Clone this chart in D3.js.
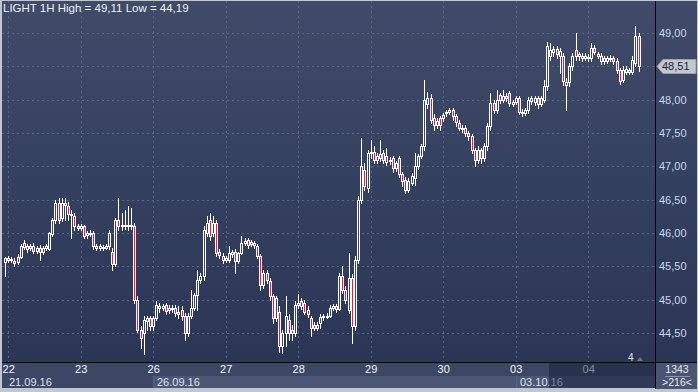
<!DOCTYPE html>
<html><head><meta charset="utf-8">
<script src="https://cdn.jsdelivr.net/npm/d3@7"></script>
<style>
html,body{margin:0;padding:0;background:#c4c8cf;}
svg{display:block;font-family:"Liberation Sans",Arial,sans-serif;}
</style></head>
<body>
<svg id="chart" width="698" height="392"></svg>
<script>
// ---- data ----
const title = "LIGHT 1H High = 49,11 Low = 44,19";
const opens = [45.57,45.62,45.60,45.58,45.56,45.64,45.85,45.76,45.80,45.80,45.73,45.78,45.72,45.77,45.76,45.98,46.20,46.45,46.22,46.42,
46.40,46.28,46.25,46.10,46.08,46.10,45.97,46.00,46.00,45.80,45.78,45.79,45.78,45.80,45.72,45.53,46.20,46.10,46.12,46.10,
46.12,46.10,45.00,44.55,44.50,44.68,44.72,44.60,44.72,44.88,44.88,44.92,44.85,44.87,44.88,44.82,44.85,44.75,44.50,44.76,
44.88,45.07,45.30,45.35,46.00,46.20,46.00,46.15,45.72,45.65,45.60,45.60,45.68,45.72,45.58,45.70,45.85,45.90,45.83,45.82,
45.80,45.65,45.22,45.40,45.28,45.05,44.72,44.82,44.30,44.50,44.70,44.55,44.50,44.92,44.98,44.95,44.85,44.72,44.62,44.58,
44.65,44.74,44.76,44.76,44.88,44.90,44.86,45.35,45.15,44.85,45.32,44.60,45.60,46.50,46.95,46.68,47.20,47.22,47.10,47.12,
47.20,47.15,47.08,47.12,46.97,47.12,46.88,46.80,46.65,46.75,46.82,47.00,47.15,47.30,47.93,48.03,47.72,47.62,47.72,47.72,
47.80,47.82,47.85,47.75,47.65,47.56,47.58,47.50,47.45,47.25,47.10,47.25,47.12,47.30,47.60,47.95,47.85,48.07,48.00,48.05,
48.10,47.93,47.96,48.03,47.82,47.80,47.84,48.02,47.96,48.02,47.93,48.00,48.20,48.65,48.72,48.76,48.65,48.65,48.22,48.27,
48.50,48.75,48.65,48.66,48.63,48.64,48.62,48.78,48.66,48.58,48.62,48.58,48.63,48.62,48.58,48.44,48.30,48.42,48.44,48.42,
48.55,48.95];
const highs = [45.64,45.66,45.64,45.62,45.68,45.84,45.89,45.83,45.84,45.85,45.80,45.82,45.81,45.84,46.02,46.22,46.50,46.52,46.52,46.53,
46.46,46.35,46.30,46.14,46.13,46.12,46.03,46.04,46.03,45.83,45.83,45.82,45.83,46.05,45.78,46.22,46.53,46.30,46.35,46.40,
46.38,46.15,45.05,44.60,44.75,44.76,44.76,44.75,44.98,44.95,44.94,44.95,44.92,44.92,44.92,44.90,44.90,44.80,44.80,45.15,
45.10,45.45,45.40,46.10,46.25,46.30,46.25,46.20,45.76,45.70,45.65,45.80,45.75,45.76,45.72,45.95,45.92,45.93,45.90,45.88,
45.84,45.68,45.45,45.45,45.32,45.08,45.05,44.90,44.55,45.05,44.78,44.62,44.98,45.08,45.02,45.00,44.90,44.76,44.66,44.66,
44.78,44.79,44.80,44.92,44.93,44.94,45.40,45.50,45.20,45.70,45.38,45.65,46.55,47.43,47.05,47.25,47.40,47.30,47.20,47.40,
47.24,47.28,47.14,47.16,47.08,47.15,46.92,46.84,46.82,46.90,47.20,47.18,47.33,48.30,48.12,48.08,47.78,47.72,47.76,47.80,
47.85,47.88,47.88,47.78,47.70,47.62,47.62,47.53,47.48,47.28,47.30,47.28,47.35,47.65,48.10,48.00,48.15,48.10,48.15,48.10,
48.13,48.00,48.06,48.06,47.86,47.88,48.04,48.05,48.06,48.05,48.06,48.30,48.87,48.85,48.80,48.80,48.78,48.70,48.32,48.55,
48.70,49.00,48.72,48.70,48.70,48.68,48.85,48.82,48.72,48.70,48.66,48.66,48.67,48.65,48.62,48.48,48.50,48.50,48.48,48.65,
49.11,49.00];
const lows = [45.35,45.57,45.56,45.50,45.53,45.62,45.76,45.72,45.75,45.70,45.70,45.60,45.69,45.74,45.74,45.95,46.15,46.15,46.18,46.20,
46.20,45.93,46.05,46.05,46.05,45.92,45.93,45.95,45.76,45.74,45.75,45.75,45.76,45.76,45.45,45.50,46.05,46.05,46.06,46.05,
46.06,44.95,44.52,44.27,44.19,44.55,44.55,44.55,44.70,44.82,44.84,44.78,44.80,44.82,44.75,44.72,44.70,44.40,44.45,44.72,
44.85,44.85,45.25,45.30,45.95,45.90,45.95,45.65,45.62,45.55,45.56,45.57,45.64,45.40,45.55,45.68,45.82,45.78,45.80,45.78,
45.62,45.15,45.18,45.25,45.00,44.65,44.68,44.22,44.20,44.30,44.40,44.40,44.45,44.88,44.86,44.78,44.74,44.45,44.54,44.55,
44.58,44.70,44.72,44.74,44.85,44.82,44.84,45.10,44.95,44.80,44.35,44.55,45.55,46.45,46.65,46.62,47.12,47.05,47.05,47.08,
47.05,47.02,47.04,46.92,46.93,46.84,46.70,46.60,46.62,46.72,46.72,46.96,47.12,47.25,47.88,47.65,47.55,47.58,47.55,47.68,
47.76,47.78,47.70,47.60,47.54,47.52,47.46,47.40,47.20,47.00,47.05,47.05,47.08,47.25,47.55,47.80,47.80,47.95,47.96,47.98,
47.90,47.90,47.93,47.78,47.76,47.77,47.80,47.94,47.92,47.88,47.90,47.96,48.15,48.60,48.66,48.62,48.40,48.22,47.85,48.20,
48.45,48.60,48.60,48.58,48.60,48.58,48.58,48.68,48.62,48.54,48.54,48.55,48.58,48.54,48.40,48.24,48.26,48.38,48.38,48.38,
48.50,48.43];
const closes = [45.62,45.60,45.61,45.55,45.64,45.80,45.79,45.80,45.78,45.73,45.77,45.72,45.78,45.80,46.00,46.20,46.45,46.20,46.45,46.45,
46.28,46.27,46.10,46.08,46.10,45.95,46.00,45.98,45.80,45.78,45.80,45.78,45.80,46.00,45.53,46.20,46.10,46.12,46.10,46.12,
46.10,45.00,44.55,44.42,44.70,44.72,44.60,44.72,44.92,44.90,44.90,44.83,44.88,44.88,44.80,44.78,44.75,44.50,44.76,44.88,
45.07,45.30,45.35,46.05,46.15,45.95,46.15,45.70,45.67,45.60,45.62,45.70,45.72,45.58,45.70,45.85,45.88,45.82,45.86,45.85,
45.65,45.22,45.40,45.30,45.05,44.72,45.02,44.30,44.50,44.75,44.50,44.50,44.92,44.95,44.90,44.82,44.78,44.58,44.58,44.62,
44.74,44.76,44.75,44.88,44.90,44.86,45.35,45.15,45.00,45.32,44.60,45.60,46.50,47.00,46.70,47.20,47.22,47.10,47.15,47.18,
47.10,47.06,47.10,46.97,47.05,46.88,46.78,46.65,46.78,46.85,47.00,47.15,47.30,48.00,48.03,47.70,47.62,47.68,47.62,47.77,
47.82,47.84,47.75,47.66,47.58,47.58,47.50,47.45,47.25,47.10,47.25,47.12,47.30,47.60,47.95,47.85,48.00,48.00,48.05,48.03,
47.95,47.97,48.02,47.82,47.80,47.84,48.00,47.98,48.02,47.93,48.02,48.20,48.80,48.75,48.76,48.68,48.73,48.28,48.27,48.50,
48.65,48.65,48.68,48.63,48.65,48.62,48.78,48.72,48.68,48.66,48.58,48.62,48.61,48.58,48.44,48.28,48.45,48.46,48.42,48.60,
48.95,48.51];
const dayLabels = ["22","23","26","27","28","29","30","03","04"];
const dayStarts = [1,24,47,70,93,116,139,162,185];
const dateLabels = ["21.09.16","26.09.16","03.10.16"];
const dateStarts = [-1,47,162];
const gridPrices = [44.5,45,45.5,46,46.5,47,47.5,48,48.5,49];
const priceLabels = [44.5,45,45.5,46,46.5,47,47.5,48,49];
const lastPrice = 48.51;
const barCountText = ["1343", ">216<"];

// ---- drawing ----
const W = 698, H = 392;
const plotL = 2, plotR = 655, plotT = 1, plotB = 362;
const svg = d3.select("#chart");
const defs = svg.append("defs");
const grad = defs.append("linearGradient").attr("id","bg").attr("x1",0).attr("y1",0).attr("x2",0).attr("y2",1);
grad.append("stop").attr("offset","0%").attr("stop-color","#3f4b69");
grad.append("stop").attr("offset","100%").attr("stop-color","#2b3656");

const n = closes.length;
const x = d3.scaleLinear().domain([0, 184]).range([5, 585]);
const y = d3.scaleLinear().domain([44.5, 49]).range([333, 33]);
const fmt = v => d3.format(".2f")(v).replace(".", ",");

// frame
svg.append("rect").attr("x",0).attr("y",0).attr("width",W).attr("height",H).attr("fill","#c2c6ce");
svg.append("rect").attr("x",plotL).attr("y",plotT).attr("width",W-1-plotL).attr("height",plotB-plotT).attr("fill","url(#bg)");

// grid
const grid = svg.append("g").attr("stroke","#5a6683").attr("stroke-width",1).attr("stroke-dasharray","2,3").attr("shape-rendering","crispEdges");
gridPrices.forEach(p => {
  grid.append("line").attr("x1",plotL).attr("x2",plotR).attr("y1",Math.round(y(p))+0.5).attr("y2",Math.round(y(p))+0.5);
});
dayStarts.forEach(i => {
  grid.append("line").attr("x1",Math.round(x(i))+0.5).attr("x2",Math.round(x(i))+0.5).attr("y1",plotT).attr("y2",plotB);
});

// candles
const cg = svg.append("g").attr("shape-rendering","crispEdges");
for (let i = 0; i < n; i++) {
  const cx = Math.round(x(i));
  const o = opens[i], c = closes[i], h = highs[i], l = lows[i];
  cg.append("line").attr("x1",cx+0.5).attr("x2",cx+0.5)
    .attr("y1",Math.round(y(h))).attr("y2",Math.round(y(l))+1)
    .attr("stroke","#ffffff").attr("stroke-width",1);
  const top = Math.round(y(Math.max(o,c))), bot = Math.round(y(Math.min(o,c)));
  const hgt = Math.max(1, bot - top);
  cg.append("rect").attr("x",cx-0.5).attr("y",top+0.5).attr("width",2).attr("height",hgt)
    .attr("fill", c < o ? "#ff1040" : "#3a4664")
    .attr("stroke","#ffffff").attr("stroke-width",1);
}

// title
svg.append("text").attr("x",3).attr("y",12).attr("fill","#eef1f6").attr("font-size",11.5).text(title);

// right axis
const ra = svg.append("g").attr("transform",`translate(${plotR},0)`)
  .call(d3.axisRight(y).tickValues(priceLabels).tickSize(0).tickPadding(4).tickFormat(fmt));
ra.select(".domain").remove();
ra.selectAll("text").attr("fill","#c9d7f0").attr("font-size",11).attr("font-family","Liberation Sans, Arial, sans-serif");

// bottom area
svg.append("rect").attr("x",plotL).attr("y",plotB+1).attr("width",plotR-plotL).attr("height",13).attr("fill","#3b4764");
svg.append("rect").attr("x",plotL).attr("y",plotB+14).attr("width",plotR-plotL).attr("height",12).attr("fill","#3b4764");
dateStarts.forEach((s, k) => {
  const x0 = k === 0 ? plotL : Math.round(x(s));
  const x1 = k < dateStarts.length-1 ? Math.round(x(dateStarts[k+1])) : plotR;
  svg.append("rect").attr("x",x0).attr("y",plotB+14).attr("width",x1-x0).attr("height",12)
    .attr("fill", k === 0 ? "#3b4764" : "#4b5775");
  if (k > 0) svg.append("line").attr("x1",x0+0.5).attr("x2",x0+0.5).attr("y1",plotB+14).attr("y2",plotB+26)
    .attr("stroke","#56627f").attr("shape-rendering","crispEdges");
  svg.append("text").attr("x",x0+ (k===0?7:4)).attr("y",plotB+24).attr("fill","#dfe4ee").attr("font-size",11).text(dateLabels[k]);
});

const ba = svg.append("g").attr("transform",`translate(0,${plotB+1})`)
  .call(d3.axisBottom(x).tickValues(dayStarts).tickSize(0).tickPadding(2).tickFormat((d,i)=>dayLabels[i]));
ba.select(".domain").remove();
ba.selectAll("text").attr("fill","#f2f4f8").attr("font-size",11).attr("font-family","Liberation Sans, Arial, sans-serif");

// dark viewport overlay at right of time axis
svg.append("rect").attr("x",549).attr("y",plotB+1).attr("width",plotR-549).attr("height",25)
  .attr("fill","#141d38").attr("opacity",0.5);

// separators
svg.append("line").attr("x1",plotR+0.5).attr("x2",plotR+0.5).attr("y1",plotT).attr("y2",H-3).attr("stroke","#05070c").attr("shape-rendering","crispEdges");
svg.append("line").attr("x1",plotL).attr("x2",W-1).attr("y1",plotB+0.5).attr("y2",plotB+0.5).attr("stroke","#05070c").attr("shape-rendering","crispEdges");

// right-bottom info box
svg.append("rect").attr("x",plotR+1).attr("y",plotB+1).attr("width",W-plotR-2).attr("height",26).attr("fill","#4a5573");
svg.append("text").attr("x",677).attr("y",plotB+11).attr("text-anchor","middle").attr("fill","#e6eaf2").attr("font-size",10.5).text(barCountText[0]);
svg.append("line").attr("x1",665).attr("x2",690).attr("y1",plotB+14.5).attr("y2",plotB+14.5).attr("stroke","#8a93a8").attr("shape-rendering","crispEdges");
svg.append("text").attr("x",677).attr("y",plotB+24).attr("text-anchor","middle").attr("fill","#e6eaf2").attr("font-size",10.5).text(barCountText[1]);

// last price marker
const ly = Math.round(y(lastPrice));
svg.append("path").attr("d",`M${plotR+2},${ly+0.5} L${plotR+8},${ly-6.5} L${W-2},${ly-6.5} L${W-2},${ly+7.5} L${plotR+8},${ly+7.5} Z`)
  .attr("fill","#c3c7ce").attr("stroke","#9aa0ab");
svg.append("text").attr("x",plotR+7).attr("y",ly+4).attr("fill","#1d2635").attr("font-size",11).text(fmt(lastPrice));

// "4" marker bottom right of plot
svg.append("text").attr("x",628).attr("y",361).attr("fill","#dfe4ee").attr("font-size",10).text("4");
svg.append("path").attr("d","M637,361 L640,357 L643,361 Z").attr("fill","#6d7792");
</script>
</body></html>
